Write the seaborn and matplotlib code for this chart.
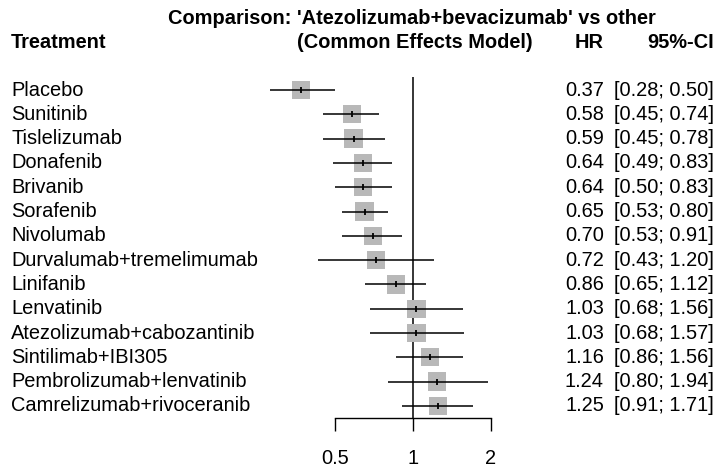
import matplotlib.pyplot as plt
import matplotlib.transforms as mtransforms
import seaborn as sns
import numpy as np
import pandas as pd

# Data
treatments = ["Placebo", "Sunitinib", "Tislelizumab", "Donafenib", "Brivanib",
              "Sorafenib", "Nivolumab", "Durvalumab+tremelimumab", "Linifanib",
              "Lenvatinib", "Atezolizumab+cabozantinib", "Sintilimab+IBI305",
              "Pembrolizumab+lenvatinib", "Camrelizumab+rivoceranib"]
hr = [0.37, 0.58, 0.59, 0.64, 0.64, 0.65, 0.70, 0.72, 0.86, 1.03, 1.03, 1.16, 1.24, 1.25]
lower = [0.28, 0.45, 0.45, 0.49, 0.50, 0.53, 0.53, 0.43, 0.65, 0.68, 0.68, 0.86, 0.80, 0.91]
upper = [0.50, 0.74, 0.78, 0.83, 0.83, 0.80, 0.91, 1.20, 1.12, 1.56, 1.57, 1.56, 1.94, 1.71]
xticks = [0.5, 1, 2]
xticklabels = ["0.5", "1", "2"]

df = pd.DataFrame({"treatment": treatments, "hr": hr, "lower": lower, "upper": upper})
df["row"] = np.arange(len(df))

sns.set_style("white")
plt.rcParams["font.family"] = ["Liberation Sans", "DejaVu Sans"]
plt.rcParams["text.color"] = "black"
plt.rcParams["xtick.color"] = "black"
plt.rcParams["axes.edgecolor"] = "black"

W, H = 718, 468
fig = plt.figure(figsize=(W / 100, H / 100), dpi=100)

# axes in pixel terms: x 240..560, y 77..418
px0, px1, py0, py1 = 240, 560, 77, 418
ax = fig.add_axes([px0 / W, 1 - py1 / H, (px1 - px0) / W, (py1 - py0) / H])
ax.set_xscale("log")
ppu = 78.0  # pixels per doubling
ax.set_xlim(2 ** ((px0 - 413) / ppu), 2 ** ((px1 - 413) / ppu))
step = 24.3
ax.set_ylim((py1 - 90) / step, (py0 - 90) / step)

# reference line
ax.axvline(1, color="black", lw=1.1, zorder=1)

sns.scatterplot(data=df, x="hr", y="row", marker="s", s=175, color="#B8B8B8",
                edgecolor="none", ax=ax, zorder=2, legend=False)
ax.hlines(df["row"], df["lower"], df["upper"], color="black", lw=1.1, zorder=3)
ax.plot(df["hr"], df["row"], linestyle="none", marker="|", markersize=5,
        markeredgewidth=1.3, color="black", zorder=4)

for s in ["top", "right", "left"]:
    ax.spines[s].set_visible(False)
ax.spines["bottom"].set_bounds(xticks[0], xticks[-1])
ax.spines["bottom"].set_linewidth(1.0)
ax.set_xticks(xticks)
fs = 14.4
ax.set_xticklabels(xticklabels, fontsize=fs)
ax.xaxis.set_minor_locator(plt.NullLocator())
ax.tick_params(axis="x", direction="out", length=9, width=1.0, pad=13, bottom=True)
ax.set_yticks([])
ax.set_xlabel("")
ax.set_ylabel("")
ax.patch.set_alpha(0)

trans = mtransforms.blended_transform_factory(fig.transFigure, ax.transData)
for i, row in df.iterrows():
    ax.text(11 / W, row["row"], row["treatment"], transform=trans, ha="left",
            va="center", fontsize=fs)
    ax.text(604 / W, row["row"], f"{row['hr']:.2f}", transform=trans, ha="right",
            va="center", fontsize=fs)
    ax.text(714 / W, row["row"], f"[{row['lower']:.2f}; {row['upper']:.2f}]",
            transform=trans, ha="right", va="center", fontsize=fs)

# headers
fig.text(412 / W, 1 - 18 / H, "Comparison: 'Atezolizumab+bevacizumab' vs other",
         ha="center", va="center", fontsize=fs, fontweight="bold")
fig.text(415 / W, 1 - 43 / H, "(Common Effects Model)", ha="center", va="center",
         fontsize=fs, fontweight="bold")
fig.text(11 / W, 1 - 43 / H, "Treatment", ha="left", va="center", fontsize=fs,
         fontweight="bold")
fig.text(604 / W, 1 - 43 / H, "HR", ha="right", va="center", fontsize=fs,
         fontweight="bold")
fig.text(714 / W, 1 - 43 / H, "95%-CI", ha="right", va="center", fontsize=fs,
         fontweight="bold")

fig.savefig("out.png", dpi=100)
